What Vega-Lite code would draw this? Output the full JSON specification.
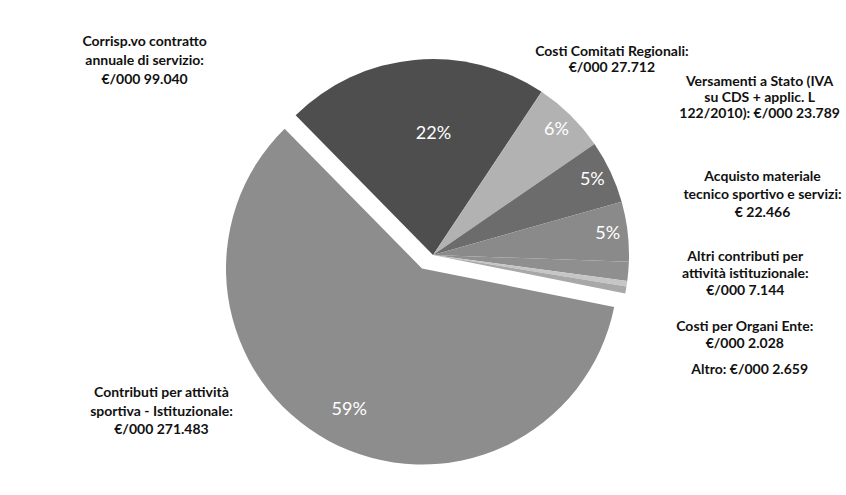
{
  "$schema": "https://vega.github.io/schema/vega-lite/v6.json",
  "width": 838,
  "height": 481,
  "autosize": {"type": "none"},
  "padding": {"left": 8, "top": 14, "right": 0, "bottom": 0},
  "background": "white",
  "config": {
    "view": {"stroke": "#c4c4c4", "strokeDash": [2, 2], "strokeWidth": 1},
    "text": {"font": "Lato"}
  },
  "data": {
    "values": [
      {"n": 1, "name": "Corrisp.vo contratto annuale di servizio", "value": 99040, "pct": "22%", "label": "Corrisp.vo contratto\nannuale di servizio:\n€/000 99.040"},
      {"n": 2, "name": "Costi Comitati Regionali", "value": 27712, "pct": "6%", "label": "Costi Comitati Regionali:\n€/000 27.712"},
      {"n": 3, "name": "Versamenti a Stato", "value": 23789, "pct": "5%", "label": "Versamenti a Stato (IVA\nsu CDS + applic. L\n122/2010): €/000 23.789"},
      {"n": 4, "name": "Acquisto materiale tecnico sportivo e servizi", "value": 22466, "pct": "5%", "label": "Acquisto materiale\ntecnico sportivo e servizi:\n€ 22.466"},
      {"n": 5, "name": "Altri contributi per attività istituzionale", "value": 7144, "pct": "", "label": "Altri contributi per\nattività istituzionale:\n€/000 7.144"},
      {"n": 6, "name": "Costi per Organi Ente", "value": 2028, "pct": "", "label": "Costi per Organi Ente:\n€/000 2.028"},
      {"n": 7, "name": "Altro", "value": 2659, "pct": "", "label": "Altro:  €/000 2.659"},
      {"n": 8, "name": "Contributi per attività sportiva - istituzionale", "value": 271483, "pct": "59%", "label": "Contributi per attività\nsportiva - Istituzionale:\n€/000 271.483"}
    ]
  },
  "encoding": {
    "theta": {"field": "value", "type": "quantitative", "stack": true, "scale": {"range": [-0.7767, 5.5065]}},
    "order": {"field": "n", "type": "quantitative"}
  },
  "layer": [
    {
      "mark": {"type": "arc", "outerRadius": 196, "x": {"expr": "width/2+6"}, "y": {"expr": "height/2+0.5"}},
      "encoding": {
        "color": {
          "field": "name", "type": "nominal", "legend": null,
          "scale": {
            "domain": ["Corrisp.vo contratto annuale di servizio", "Costi Comitati Regionali", "Versamenti a Stato", "Acquisto materiale tecnico sportivo e servizi", "Altri contributi per attività istituzionale", "Costi per Organi Ente", "Altro", "Contributi per attività sportiva - istituzionale"],
            "range": ["#4e4e4e", "#b2b2b2", "#6c6c6c", "#8a8a8a", "#8f8f8f", "#c6c6c6", "#a8a8a8", "#8d8d8d"]
          }
        },
        "opacity": {"condition": {"test": "datum.n === 8", "value": 0}, "value": 1}
      }
    },
    {
      "mark": {"type": "arc", "outerRadius": 196, "x": {"expr": "width/2-5"}, "y": {"expr": "height/2+14"}},
      "encoding": {
        "color": {"field": "name", "type": "nominal", "legend": null},
        "opacity": {"condition": {"test": "datum.n === 8", "value": 1}, "value": 0}
      }
    },
    {
      "mark": {"type": "text", "x": {"expr": "width/2+6"}, "y": {"expr": "height/2+0.5"}, "fontSize": 18, "color": "white", "align": "center", "baseline": "middle"},
      "encoding": {
        "text": {"condition": {"test": "datum.n !== 1", "field": "pct"}, "value": ""},
        "radius": {
          "condition": [
            {"test": "datum.n === 2", "value": 139},
            {"test": "datum.n === 3", "value": 165},
            {"test": "datum.n === 8", "value": 109}
          ],
          "value": 176
        }
      }
    },
    {
      "mark": {"type": "text", "x": {"expr": "width/2+6"}, "y": {"expr": "height/2+0.5"}, "radius": 122, "dx": 12, "fontSize": 18, "color": "white", "align": "center", "baseline": "middle"},
      "encoding": {"text": {"condition": {"test": "datum.n === 1", "field": "pct"}, "value": ""}}
    },
    {
      "mark": {"type": "text", "x": {"expr": "width/2+6"}, "y": {"expr": "height/2+0.5"}, "radius": 205, "dx": -269, "dy": -9, "fontSize": 14, "fontWeight": "bold", "color": "#111111", "align": "center", "baseline": "middle", "lineBreak": "\n", "lineHeight": 19},
      "encoding": {"text": {"condition": {"test": "datum.n === 1", "field": "label"}, "value": ""}}
    },
    {
      "mark": {"type": "text", "x": {"expr": "width/2+6"}, "y": {"expr": "height/2+0.5"}, "radius": 205, "dx": 35, "dy": -57, "fontSize": 14, "fontWeight": "bold", "color": "#111111", "align": "center", "baseline": "middle", "lineBreak": "\n", "lineHeight": 16},
      "encoding": {"text": {"condition": {"test": "datum.n === 2", "field": "label"}, "value": ""}}
    },
    {
      "mark": {"type": "text", "x": {"expr": "width/2+6"}, "y": {"expr": "height/2+0.5"}, "radius": 205, "dx": 141, "dy": -86, "fontSize": 14, "fontWeight": "bold", "color": "#111111", "align": "center", "baseline": "middle", "lineBreak": "\n", "lineHeight": 16},
      "encoding": {"text": {"condition": {"test": "datum.n === 3", "field": "label"}, "value": ""}}
    },
    {
      "mark": {"type": "text", "x": {"expr": "width/2+6"}, "y": {"expr": "height/2+0.5"}, "radius": 205, "dx": 126, "dy": -53, "fontSize": 14, "fontWeight": "bold", "color": "#111111", "align": "center", "baseline": "middle", "lineBreak": "\n", "lineHeight": 18},
      "encoding": {"text": {"condition": {"test": "datum.n === 4", "field": "label"}, "value": ""}}
    },
    {
      "mark": {"type": "text", "x": {"expr": "width/2+6"}, "y": {"expr": "height/2+0.5"}, "radius": 205, "dx": 108, "dy": -15, "fontSize": 14, "fontWeight": "bold", "color": "#111111", "align": "center", "baseline": "middle", "lineBreak": "\n", "lineHeight": 17},
      "encoding": {"text": {"condition": {"test": "datum.n === 5", "field": "label"}, "value": ""}}
    },
    {
      "mark": {"type": "text", "x": {"expr": "width/2+6"}, "y": {"expr": "height/2+0.5"}, "radius": 205, "dx": 109, "dy": 42, "fontSize": 14, "fontWeight": "bold", "color": "#111111", "align": "center", "baseline": "middle", "lineBreak": "\n", "lineHeight": 17},
      "encoding": {"text": {"condition": {"test": "datum.n === 6", "field": "label"}, "value": ""}}
    },
    {
      "mark": {"type": "text", "x": {"expr": "width/2+6"}, "y": {"expr": "height/2+0.5"}, "radius": 205, "dx": 115, "dy": 78, "fontSize": 14, "fontWeight": "bold", "color": "#111111", "align": "center", "baseline": "middle", "lineBreak": "\n", "lineHeight": 17},
      "encoding": {"text": {"condition": {"test": "datum.n === 7", "field": "label"}, "value": ""}}
    },
    {
      "mark": {"type": "text", "x": {"expr": "width/2+6"}, "y": {"expr": "height/2+0.5"}, "radius": 205, "dx": -174, "dy": -42, "fontSize": 14, "fontWeight": "bold", "color": "#111111", "align": "center", "baseline": "middle", "lineBreak": "\n", "lineHeight": 18.5},
      "encoding": {"text": {"condition": {"test": "datum.n === 8", "field": "label"}, "value": ""}}
    }
  ]
}
